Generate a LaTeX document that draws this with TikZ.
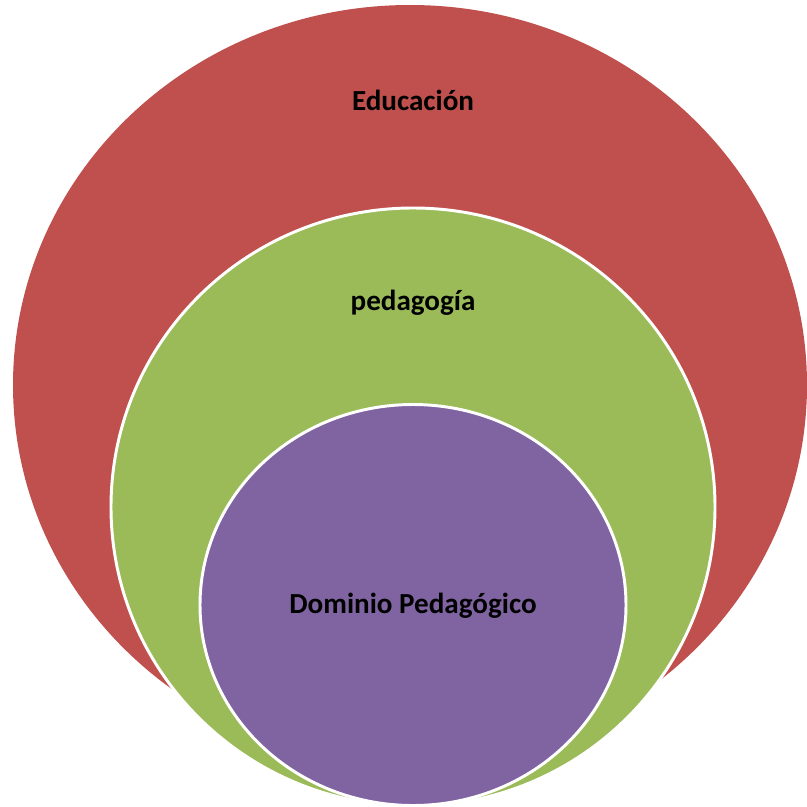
\documentclass[tikz,border=0pt]{standalone}
\usepackage{fontspec}
\setmainfont{Carlito}
\usepackage{tikz}
\usetikzlibrary{shapes.geometric}
\definecolor{edured}{HTML}{C0504D}
\definecolor{pedgreen}{HTML}{9BBB59}
\definecolor{dompurple}{HTML}{8064A2}
\tikzstyle{ring} = [ellipse, inner sep = 0pt, outer sep = 0pt]
\tikzstyle{wring} = [ring, draw = white, line width = 2.1pt]
\tikzstyle{tag} = [font = \fontsize{20.7}{24}\selectfont\bfseries, text = black]

\begin{document}
\begin{tikzpicture}
			\useasboundingbox (0,0) rectangle (20.175,-20.175);
			\clip (0,0) rectangle (20.175,-20.175);
			\node [ring, fill = edured, minimum width = 19.85cm, minimum height = 19.0cm] (edu) at (10.25, -9.625) {};
			\node [wring, fill = pedgreen, minimum width = 15.1cm, minimum height = 14.95cm] (ped) at (10.325, -12.675) {};
			\node [wring, fill = dompurple, minimum width = 10.65cm, minimum height = 10.025cm] (dom) at (10.325, -15.125) {};

			\node [tag] (edut) at (10.325, -2.5) {Educación};
			\node [tag] (pedt) at (10.325, -7.575) {pedagogía};
			\node [tag] (domt) at (10.325, -15.15) {Dominio Pedagógico};
		\end{tikzpicture}
\end{document}
